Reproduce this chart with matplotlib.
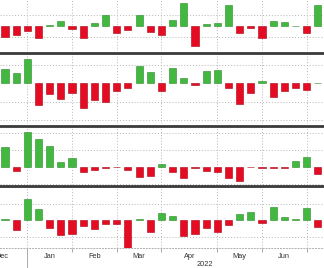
"""Four stacked weekly bar panels (green up / red down), Dec 2021 - Jun 2022."""

import matplotlib
matplotlib.use("Agg")
import matplotlib.pyplot as plt

W, H = 324, 268
GREEN = "#43b840"
RED = "#e50b22"

# weekly changes (pixel-ish units, one panel per list)
panel1 = [-11, -8.5, -5, -11.5, 1, 5.5, -2.5, -12, 3.5, 11, -6.5, -4, 11, -5.5,
          -8.5, 6, 23.3, -20, 1.8, 3.2, 21, -7.3, -2, -12.3, 5, 4.3, 0.4, -7.3, 21]
panel2 = [14, 10, 24, -21.7, -11, -16, -10, -24.3, -16.7, -18.3, -7.7, -4.3, 17.3,
          11.7, -8, 15.7, 5, -1.3, 12.7, 13.3, -5, -21, -9.3, 2.3, -14, -7.3, -4.3,
          -6.7, 0.4]
panel3 = [19.3, -4.3, 35, 27.7, 20.7, 5, 8.3, -5, -3.3, -1.3, -0.7, -3.3, -10.7, -9,
          2.6, -5.7, -11, -1.7, -4, -5.7, -11, -14.3, -0.7, -1.7, -1.7, -1.3, 5.7, 10,
          -7.7]
panel4 = [1, -10, 21.7, 11.7, -7.7, -15, -13.3, -5.3, -9, -3.7, -3.7, -27.3, 1, -11.7,
          7.2, 4, -15.3, -13.3, -7.7, -12, -4.3, 6.3, 8.3, -2.7, 13, 3.3, 1.3, 12.7,
          -6.7]
panels = [panel1, panel2, panel3, panel4]

# horizontal dotted grid levels per panel (same units)
grid_levels = [[11.5, -11], [18.3, -18.3, -36.7], [34, 17, -17.3], [33, 16.5, -16.5]]

# month boundaries (bar index) and label positions
month_edges = [2, 6, 10, 14, 19, 23, 27]
month_pos = [-0.25, 4, 8, 12, 16.5, 21, 25]
month_names = ["Dec", "Jan", "Feb", "Mar", "Apr", "May", "Jun"]

# pixel layout: (top, bottom, baseline) of each panel
layout = [(-2, 51, 26), (53, 124, 83.3), (125.5, 184.5, 166.7), (186, 248, 220.3)]

fig = plt.figure(figsize=(W / 100, H / 100), dpi=100)
plt.rcParams["font.family"] = ["Liberation Sans", "DejaVu Sans"]

axes = []
for k, (values, (top, bottom, base)) in enumerate(zip(panels, layout)):
    ax = fig.add_axes([0, 1 - bottom / H, 1, (bottom - top) / H])
    x = list(range(len(values)))
    colors = [GREEN if v >= 0 else RED for v in values]
    edges = ["#2a8a2a" if v >= 0 else "#a80010" for v in values]
    ax.bar(x, values, width=0.64, color=colors, edgecolor=edges, linewidth=0.4,
           zorder=3)
    ax.set_xlim(-0.45, 28.55)
    ax.set_ylim(-(bottom - base), base - top)
    for level in grid_levels[k]:
        ax.axhline(level, color="#b5b5b5", lw=0.7, ls=(0, (1, 2)), zorder=1)
    for edge in month_edges:
        ax.axvline(edge, color="#b5b5b5", lw=0.7, ls=(0, (1, 2)), zorder=1)
    for side in ("left", "right", "bottom"):
        ax.spines[side].set_visible(False)
    if k == 0:
        ax.spines["top"].set_visible(False)
    else:
        ax.spines["top"].set_color("#3a3a3a")
        ax.spines["top"].set_linewidth(2.0)
    ax.set_yticks([])
    ax.set_xticks([])
    axes.append(ax)

ax = axes[-1]
ax.spines["bottom"].set_visible(True)
ax.spines["bottom"].set_color("#b0b0b0")
ax.spines["bottom"].set_linewidth(0.7)
ax.spines["bottom"].set_linestyle((0, (1, 2)))
ax.set_xticks(month_edges)
ax.set_xticklabels([])
ax.tick_params(axis="x", which="major", length=3, width=0.6, color="#999999")
ax.set_xticks(month_pos, minor=True)
ax.set_xticklabels(month_names, minor=True)
ax.tick_params(axis="x", which="minor", length=0, pad=3.5, labelsize=5.3,
               labelcolor="#333333")
ax.axvline(2, ymin=-0.35, ymax=0, color="#aaaaaa", lw=0.7, clip_on=False)

fig.text(205 / W, 1 - 264 / H, "2022", ha="center", va="center", fontsize=5.3,
         color="#333333")

fig.savefig("out.png", dpi=100)
